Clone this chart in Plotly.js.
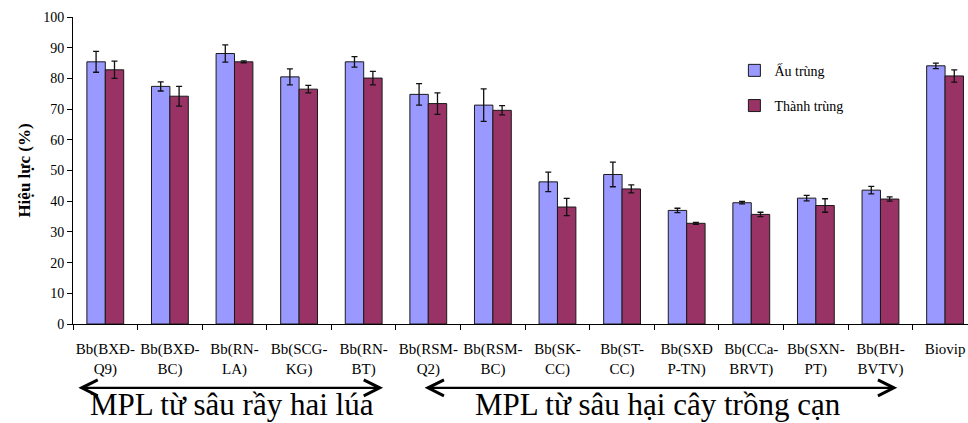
<!DOCTYPE html>
<html>
<head>
<meta charset="utf-8">
<script src="https://cdn.plot.ly/plotly-3.0.1.min.js"></script>
<style>
  html, body { margin: 0; padding: 0; background: #fff; }
  #chart { width: 968px; height: 423px; }
</style>
</head>
<body>
<div id="chart"></div>
<script>
// Isolates of Beauveria bassiana (Bb) and the commercial Biovip product
const categories = [
  'Bb(BXĐ-<br>Q9)', 'Bb(BXĐ-<br>BC)', 'Bb(RN-<br>LA)', 'Bb(SCG-<br>KG)', 'Bb(RN-<br>BT)',
  'Bb(RSM-<br>Q2)', 'Bb(RSM-<br>BC)', 'Bb(SK-<br>CC)', 'Bb(ST-<br>CC)', 'Bb(SXĐ<br>P-TN)',
  'Bb(CCa-<br>BRVT)', 'Bb(SXN-<br>PT)', 'Bb(BH-<br>BVTV)', 'Biovip'
];

// Efficacy (%) on nymphs and on adults, with standard errors
const nymphEfficacy = [85.4, 77.4, 88.1, 80.5, 85.4, 74.8, 71.3, 46.3, 48.7, 37.0, 39.5, 41.0, 43.6, 84.1];
const nymphError    = [3.4, 1.5, 2.8, 2.6, 1.7, 3.5, 5.3, 3.2, 4.0, 0.7, 0.4, 0.9, 1.2, 0.9];
const adultEfficacy = [82.8, 74.2, 85.4, 76.5, 80.1, 71.8, 69.6, 38.1, 44.0, 32.8, 35.7, 38.6, 40.7, 80.8];
const adultError    = [2.8, 3.2, 0.3, 1.2, 2.2, 3.5, 1.5, 2.8, 1.3, 0.3, 0.7, 2.2, 0.7, 2.0];

const seriesNames = ['Ấu trùng', 'Thành trùng'];
const groupLabels = ['MPL từ sâu rầy hai lúa', 'MPL từ sâu hại cây trồng cạn'];

const serif = 'Liberation Serif, Times New Roman, serif';

function barTrace(name, values, errors, color, group) {
  return {
    type: 'bar',
    name: name,
    legendgroup: group,
    x: categories,
    y: values,
    marker: { color: color, line: { color: '#1a1a1a', width: 1 } },
    error_y: { type: 'data', array: errors, visible: true, color: '#111', thickness: 1.3, width: 3 },
    hoverinfo: 'x+y'
  };
}

const data = [
  barTrace(seriesNames[0], nymphEfficacy, nymphError, '#9999FF', 'a'),
  barTrace(seriesNames[1], adultEfficacy, adultError, '#993366', 'b')
];

// double-headed arrows spanning each group of isolates
const arrowStyle = {
  text: '', showarrow: true, arrowside: 'end+start',
  arrowhead: 5, startarrowhead: 5, arrowsize: 1.3, startarrowsize: 1.3,
  arrowwidth: 2.4, arrowcolor: '#000',
  xref: 'x', yref: 'paper', axref: 'x', ayref: 'pixel', ay: 0
};

const groupLabelStyle = {
  showarrow: false, xref: 'x', yref: 'paper', y: -0.3225,
  xanchor: 'center', yanchor: 'bottom', borderpad: 0,
  font: { family: serif, size: 31, color: '#000' }
};

const layout = {
  width: 968,
  height: 423,
  margin: { l: 73, r: 0, t: 17, b: 99, pad: 0 },
  paper_bgcolor: '#fff',
  plot_bgcolor: '#fff',
  font: { family: serif, color: '#000', size: 14 },
  barmode: 'group',
  bargap: 0.43,
  bargroupgap: 0,
  showlegend: true,
  legend: {
    x: 0.739, y: 0.877, xanchor: 'left', yanchor: 'top',
    bgcolor: 'rgba(0,0,0,0)', borderwidth: 0,
    font: { family: serif, size: 14, color: '#000' },
    traceorder: 'grouped', tracegroupgap: 14,
    itemwidth: 30
  },
  xaxis: {
    type: 'category',
    range: [-0.5, 13.355],
    showline: true, linecolor: '#000', linewidth: 1,
    ticks: 'outside', tickson: 'boundaries', ticklen: 5, tickcolor: '#000',
    tickfont: { family: serif, size: 15, color: '#000' },
    ticklabelstandoff: 11,
    tickangle: 0,
    showgrid: false, zeroline: false, fixedrange: true
  },
  yaxis: {
    range: [0, 100],
    dtick: 10,
    showline: true, linecolor: '#000', linewidth: 1,
    ticks: 'outside', ticklen: 5, tickcolor: '#000',
    tickfont: { family: serif, size: 14, color: '#000' },
    showgrid: false, zeroline: false, fixedrange: true,
    title: { text: '<b>Hiệu lực (%)</b>', font: { family: serif, size: 17, color: '#000' }, standoff: 8 }
  },
  annotations: [
    Object.assign({}, arrowStyle, { x: 4.3, ax: -0.44, y: -0.208 }),
    Object.assign({}, arrowStyle, { x: 12.26, ax: 4.92, y: -0.208 }),
    Object.assign({}, groupLabelStyle, { text: groupLabels[0], x: 1.96 }),
    Object.assign({}, groupLabelStyle, { text: groupLabels[1], x: 8.56 })
  ]
};

Plotly.newPlot('chart', data, layout, { displayModeBar: false, staticPlot: true });
</script>
</body>
</html>
